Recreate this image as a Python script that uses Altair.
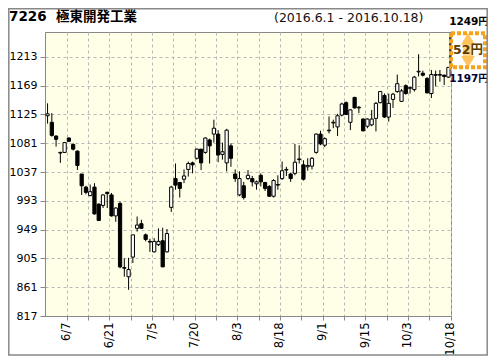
import altair as alt
import pandas as pd

# ---- data (daily OHLC, 2016-06-01 .. 2016-10-18) ----
opens = [1123, 1113, 1092, 1066, 1067, 1089, 1079, 1069, 1034, 1014,
         1001, 1014, 988, 986, 1006, 1002, 970, 989, 891, 877,
         907, 951, 958, 941, 931, 915, 926, 932, 915, 983,
         1027, 1021, 1026, 1041, 1051, 1058, 1072, 1067, 1086, 1095,
         1095, 1064, 1051, 1077, 1034, 1002, 1016, 1027, 1027, 1019,
         1032, 1021, 1015, 1000, 1017, 1027, 1040, 1034, 1035, 1056,
         1048, 1045, 1046, 1067, 1095, 1078, 1100, 1112, 1106, 1124,
         1143, 1113, 1151, 1135, 1118, 1107, 1109, 1119, 1143, 1154,
         1121, 1148, 1160, 1145, 1169, 1165, 1163, 1190, 1188, 1180,
         1157, 1186, 1185, 1185, 1182]
highs = [1142, 1127, 1093, 1068, 1083, 1090, 1081, 1070, 1034, 1016,
         1018, 1020, 989, 1003, 1007, 1005, 983, 992, 905, 906,
         941, 969, 964, 943, 935, 936, 951, 952, 950, 1016,
         1050, 1022, 1041, 1053, 1053, 1073, 1072, 1090, 1088, 1117,
         1101, 1082, 1103, 1081, 1041, 1038, 1022, 1040, 1031, 1024,
         1035, 1022, 1017, 1026, 1032, 1053, 1045, 1036, 1080, 1078,
         1055, 1058, 1060, 1096, 1100, 1090, 1122, 1117, 1126, 1143,
         1145, 1133, 1152, 1138, 1119, 1119, 1132, 1144, 1161, 1157,
         1157, 1158, 1186, 1164, 1171, 1168, 1184, 1217, 1192, 1182,
         1193, 1192, 1193, 1186, 1197]
lows = [1111, 1091, 1076, 1051, 1066, 1083, 1070, 1040, 1002, 1003,
        1000, 972, 962, 982, 982, 969, 961, 890, 877, 857,
        898, 946, 950, 931, 915, 914, 924, 892, 914, 976,
        1010, 998, 1020, 1030, 1035, 1056, 1040, 1065, 1050, 1082,
        1052, 1056, 1038, 1045, 1022, 1000, 995, 1025, 1015, 1010,
        1015, 1008, 999, 998, 1010, 1025, 1031, 1022, 1032, 1050,
        1024, 1039, 1041, 1065, 1078, 1075, 1096, 1104, 1092, 1122,
        1124, 1101, 1134, 1127, 1099, 1104, 1107, 1099, 1142, 1120,
        1114, 1135, 1158, 1144, 1155, 1157, 1160, 1183, 1183, 1157,
        1150, 1168, 1175, 1170, 1181]
closes = [1126, 1093, 1087, 1067, 1082, 1084, 1072, 1047, 1016, 1006,
          1007, 973, 963, 1002, 1004, 970, 982, 892, 890, 888,
          941, 956, 951, 934, 930, 931, 931, 892, 943, 1014,
          1017, 1012, 1031, 1050, 1048, 1072, 1051, 1089, 1077, 1104,
          1063, 1068, 1101, 1058, 1027, 1027, 998, 1032, 1022, 1022,
          1022, 1012, 1000, 1024, 1018, 1039, 1041, 1027, 1052, 1057,
          1026, 1047, 1058, 1095, 1080, 1088, 1101, 1113, 1123, 1141,
          1125, 1132, 1135, 1136, 1100, 1118, 1118, 1142, 1160, 1121,
          1142, 1156, 1172, 1161, 1157, 1166, 1182, 1191, 1185, 1158,
          1186, 1185, 1186, 1183, 1197]

tick_index = [4, 14, 24, 34, 44, 54, 64, 74, 84, 94]
tick_labels = ["6/7", "6/21", "7/5", "7/20", "8/3", "8/18", "9/1", "9/15", "10/3", "10/18"]
y_ticks = [817, 861, 905, 949, 993, 1037, 1081, 1125, 1169, 1213]

title_text = "7226\u00a0\u00a0極東開発工業"
period_text = "(2016.6.1 - 2016.10.18)"
range_high = 1249
range_low = 1197

# ---- tables ----
n = len(opens)
df = pd.DataFrame({"i": list(range(n)), "open": opens, "high": highs,
                   "low": lows, "close": closes})
df["x0"] = df["i"] - 0.38
df["x1"] = df["i"] + 0.38
df["dir"] = ["up" if c >= o else "down" for o, c in zip(opens, closes)]

ann = pd.DataFrame({"hi": [range_high], "lo": [range_low],
                    "mid": [(range_high + range_low) / 2],
                    "diff_label": [f"{range_high - range_low}円"],
                    "hi_label": [f"{range_high}円"],
                    "lo_label": [f"{range_low}円"]})
one = pd.DataFrame({"k": [0]})

FONT = "DejaVu Sans, Noto Sans CJK JP"
GRID = "#b8b8b8"
AXC = "#888888"
ORANGE = "#F7A21B"

xscale = alt.Scale(domain=[-0.6, 94.6], nice=False, zero=False)
yscale = alt.Scale(domain=[817, 1251], nice=False, zero=False)

grid_vals = [t + 0.5 for t in range(4, 95, 5)]
label_expr = " : ".join(f"datum.value == {t + 0.5} ? '{l}'"
                        for t, l in zip(tick_index, tick_labels)) + " : ''"

xax = alt.Axis(values=grid_vals, labelExpr=label_expr, labelAngle=270,
               labelAlign="right", labelBaseline="middle", labelFontSize=11.5,
               labelFont=FONT, labelColor="black", labelPadding=2,
               labelOverlap=False, tickSize=4, tickColor=AXC,
               domainColor=AXC, gridColor=GRID, gridDash=[3, 3], title=None)
yax = alt.Axis(values=y_ticks, format="d", labelFontSize=11, labelFont=FONT,
               labelColor="black", labelPadding=3, tickSize=5,
               tickColor=AXC, domainColor=AXC, gridColor=GRID,
               gridDash=[3, 3], title=None)

base = alt.Chart(df)

wicks = base.mark_rule(color="black", strokeWidth=1).encode(
    x=alt.X("i:Q", scale=xscale, axis=xax),
    y=alt.Y("low:Q", scale=yscale, axis=yax),
    y2="high:Q",
)

bodies = base.mark_rect(stroke="black", strokeWidth=1).encode(
    x=alt.X("x0:Q", scale=xscale, axis=xax),
    x2="x1:Q",
    y=alt.Y("open:Q", scale=yscale, axis=yax),
    y2="close:Q",
    fill=alt.Fill("dir:N", scale=alt.Scale(domain=["up", "down"],
                                           range=["white", "black"]),
                  legend=None),
)

# ---- right-hand range annotation ----
BX0, BX1 = 406, 440
BXC = (BX0 + BX1) / 2
ann_base = alt.Chart(ann)
vline = ann_base.mark_rule(color="black", strokeWidth=1.5).encode(
    x=alt.value(405), y=alt.Y("hi:Q", scale=yscale, axis=yax), y2="lo:Q")
box = ann_base.mark_rect(fill="transparent", stroke=ORANGE, strokeWidth=4,
                         strokeDash=[4, 2]).encode(
    x=alt.value(BX0), x2=alt.value(BX1),
    y=alt.Y("hi:Q", scale=yscale, axis=yax), y2="lo:Q")

arrow_df = pd.DataFrame({
    "y": [range_high - 0.16 * (range_high - range_low),
          range_low + 0.16 * (range_high - range_low)],
    "shape": ["triangle-up", "triangle-down"]})
shaft = ann_base.mark_rect(fill="#FFD27A", opacity=0.9).encode(
    x=alt.value(BXC - 5), x2=alt.value(BXC + 5),
    y=alt.Y("hi:Q", scale=yscale, axis=yax), y2="lo:Q",
).transform_calculate(
    hi=f"{range_high} - 0.2 * ({range_high} - {range_low})",
    lo=f"{range_low} + 0.2 * ({range_high} - {range_low})")
heads = alt.Chart(arrow_df).mark_point(filled=True, size=190, color="#FFC259",
                                       opacity=0.95).encode(
    x=alt.value(BXC), y=alt.Y("y:Q", scale=yscale, axis=yax),
    shape=alt.Shape("shape:N", scale=None))

diff_txt = ann_base.mark_text(font=FONT, fontSize=12.5, fontWeight="bold",
                              color="#5a3a00", align="center",
                              baseline="middle").encode(
    x=alt.value(BXC), y=alt.Y("mid:Q", scale=yscale, axis=yax),
    text="diff_label:N")
hi_txt = ann_base.mark_text(font=FONT, fontSize=10.5, fontWeight="bold",
                            color="black", align="center",
                            baseline="alphabetic", dy=-8).encode(
    x=alt.value(424), y=alt.Y("hi:Q", scale=yscale, axis=yax),
    text="hi_label:N")
lo_txt = ann_base.mark_text(font=FONT, fontSize=10.5, fontWeight="bold",
                            color="#00003a", align="center",
                            baseline="alphabetic", dy=15).encode(
    x=alt.value(424), y=alt.Y("lo:Q", scale=yscale, axis=yax),
    text="lo_label:N")

# ---- titles and frame ----
one_base = alt.Chart(one)
title = one_base.mark_text(font=FONT, fontSize=13.5, fontWeight="bold",
                           color="black", align="left",
                           baseline="alphabetic").encode(
    x=alt.value(-36), y=alt.value(-11), text=alt.value(title_text))
period = one_base.mark_text(font=FONT, fontSize=12.5, color="#111111",
                            align="left", baseline="alphabetic").encode(
    x=alt.value(229), y=alt.value(-10), text=alt.value(period_text))
frame = one_base.mark_rect(fill="transparent", stroke=AXC,
                           strokeWidth=1.5).encode(
    x=alt.value(-36.2), x2=alt.value(442.2),
    y=alt.value(-23.2), y2=alt.value(323))

chart = alt.layer(
    wicks, bodies, vline, shaft, heads, box, diff_txt, hi_txt, lo_txt,
    title, period, frame
).properties(
    width=406, height=284,
    autosize=alt.AutoSizeParams(type="none"),
    padding={"left": 37, "top": 24, "right": 37, "bottom": 40},
    background="white",
).configure_view(
    fill="#FFFFE8", stroke=AXC, strokeWidth=1
)

chart.save("out.html", embed_options={"renderer": "svg", "actions": False})
